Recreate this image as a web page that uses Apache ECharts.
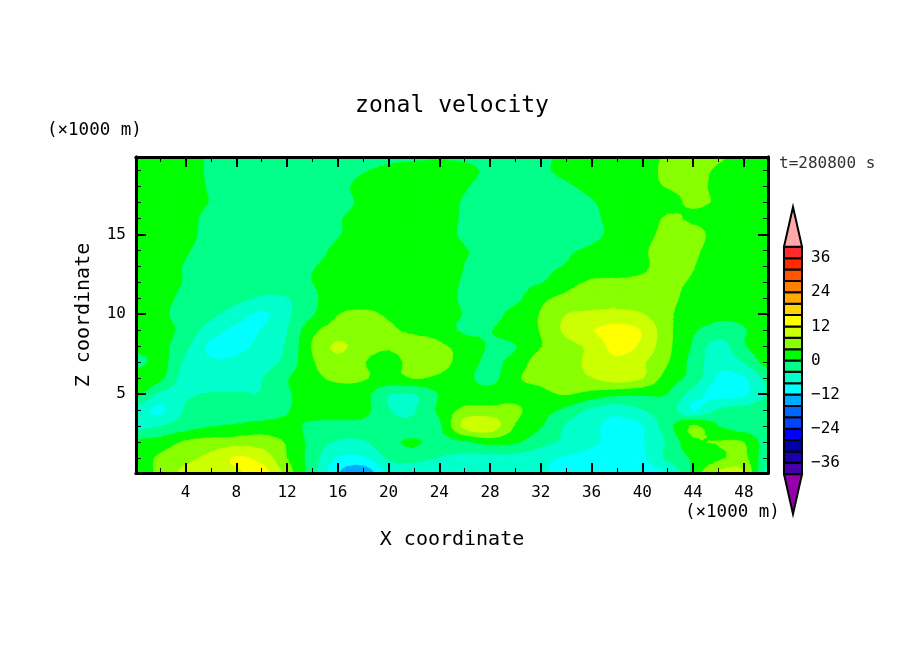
<!DOCTYPE html>
<html>
<head>
<meta charset="utf-8">
<style>
html, body { margin: 0; padding: 0; background: #fff; }
#main { width: 904px; height: 654px; }
</style>
<script src="https://cdn.jsdelivr.net/npm/echarts@6/dist/echarts.min.js"></script>
</head>
<body>
<div id="main"></div>
<script>
// km
var xPoints = [0, 2, 4, 6, 8, 10, 12, 14, 16, 18, 20, 22, 24, 26, 28, 30, 32, 34, 36, 38, 40, 42, 44, 46, 48, 50];
var zPoints = [0, 1, 2, 3, 4, 5, 6, 7, 8, 9, 10, 11, 12, 13, 14, 15, 16, 17, 18, 19, 20];

// one row per z, bottom to top, m/s
var velocity = [
    [-0.5, 5.5, 9, 10, 11, 14, 6, -2.5, -12, -16, -7, -7.5, -7.8, -8, -7.5, -7.5, -7.8, -8.5, -9.5, -9.5, -9.5, -8.5, 1, 9, 8.5, -7],
    [1.5, 4.8, 7, 9, 12.5, 10.5, 4, -2, -8.5, -8.5, -3.5, -2.5, -4.3, -5, -5.5, -5.5, -7, -8.5, -9, -9, -8.8, -3, 0.5, 3, 5, -4],
    [1, 1.5, 4.5, 5.5, 6, 6, 3.5, -1.5, -4.5, -4.5, -1, 0.5, -1.5, -0.8, 1.5, 0.5, -2.5, -5, -7.5, -8.5, -8.3, -3.5, 3, 4.2, 4, -3],
    [-6, -4, -2, -0.3, 0.5, 1.5, 1, -0.8, -1.5, -1.5, -2.5, -3, -1, 9.5, 10.5, 3.6, 0.3, -4.5, -7, -9.5, -8.3, -1.5, 4.5, 0, -2.5, -3],
    [-5.5, -9, -3.5, -3, -3, -2.8, -0.3, 1.5, 2, 1.5, -3.8, -4.3, 0.8, 5, 5, 4.7, 1.5, -1, -5, -6.5, -4.2, -2, -8.5, -3.5, -2.5, -2],
    [1.5, -5, -4.5, -3.7, -3.6, -3.9, -0.5, 1.5, 2, 1.5, -3.9, -4.3, 0.2, 1.8, 2, 2.5, 3, 4.2, 2.5, 0.8, 0.5, -0.1, -6, -9.5, -9, -3.5],
    [4.2, 1, -6, -7, -7.5, -4.2, -0.3, 2.8, 4.8, 4.4, 2.5, 4.1, 3.2, 1.2, -1.5, 3.5, 5, 6.5, 7.8, 10, 8.2, 2, -1.5, -8.8, -8.5, -2.5],
    [-2.5, 1.5, -5, -7.5, -7.5, -6, -2.8, 3.5, 6.5, 4.2, 2.5, 5.3, 5.5, 2, -0.8, 1.5, 6, 6.5, 9, 11, 8.5, 4.2, -1.5, -6.5, -3.8, 2],
    [2.5, 1.2, -3, -9, -8.8, -7, -3.5, 4.2, 8.8, 5.5, 4.4, 5.5, 4.6, 2.5, -0.5, -0.2, 3.8, 6.5, 9, 13.5, 11, 4.9, -0.5, -6, -0.3, 2],
    [2, 1.5, -1.5, -6, -9, -7.8, -4.2, 3, 5.5, 5.8, 4.5, 3.4, 2.5, -0.8, -0.2, 2, 4.2, 9, 11.8, 13.5, 11.7, 5, 0.5, -1.5, -0.3, 2],
    [2, 0.7, -1.5, -3.2, -6, -8.8, -4.7, -0.5, 3.9, 4.8, 3.5, 2.5, 1.5, -0.2, -1.5, 1.5, 4.2, 8, 8.5, 9, 8.2, 4.5, 2.5, 0.8, 1, 2],
    [2, 1, -0.8, -2, -3, -4.5, -4.3, -0.6, 1.5, 2, 2, 2.2, 1.5, -0.6, -1.5, -1, 3, 5, 6.5, 6.5, 5.5, 4.7, 3, 2, 1.5, 2],
    [2, 1, -0.2, -1.7, -2.5, -2.5, -1.5, 0, 1, 1.5, 2, 2.2, 1.5, -0.4, -1.6, -0.6, -0.2, 2.5, 4.5, 4.4, 4.4, 4.4, 3.7, 2, 1.8, 2],
    [2, 1.2, -0.2, -1.5, -2.5, -2.5, -1.5, -0.2, 1, 1.5, 2, 2.3, 2, -0.1, -1.5, -1.5, -0.8, 0.2, 1.8, 3, 3.7, 4.6, 4.1, 2.5, 2, 2],
    [2, 1.5, 0.3, -1.3, -2.5, -3, -2.5, -1.5, 0.8, 1.5, 2, 2.3, 2, 0.2, -1, -2.5, -1.5, -0.4, 0.5, 2, 3.7, 4.6, 4.4, 2.8, 2, 2],
    [2, 1.8, 0.8, -1, -2.5, -3, -3, -2.5, -0.2, 0.8, 1.8, 2.3, 1.2, -0.6, -2.5, -2.5, -2.5, -2, -0.8, 1, 3.2, 4.5, 4.8, 3, 2, 2],
    [2, 2, 1.2, -1.2, -2.5, -3, -3, -2.5, -0.3, 1, 2, 2.5, 1.5, -0.5, -2, -2.5, -2.5, -2, -0.6, 1, 2.5, 4.3, 3.6, 3.2, 2.5, 2],
    [2, 2, 1.5, -0.2, -2, -2.5, -2.5, -2, -1, 0.5, 2, 2.5, 1.5, -0.4, -2, -2.5, -2, -1.5, -0.3, 1.5, 2.8, 3.3, 4.3, 3.7, 2.5, 2],
    [2, 2, 1.8, -0.5, -2, -2.5, -2.5, -2, -1, 1, 2, 2.5, 1.5, 0.3, -1.5, -2, -1.5, -0.5, 1, 2.5, 3.3, 4.1, 4.5, 3.5, 2.5, 2],
    [2, 2, 2, -0.8, -1.5, -2, -2, -2, -1.5, -0.3, 1, 1.5, 1.5, 1, -0.8, -1.5, -0.5, 0.8, 2.5, 3.5, 3.2, 4.5, 5, 3.5, 2.5, 2],
    [2, 2, 2.5, -0.8, -1.5, -2, -2, -2, -2, -2, -1.5, -1, -0.5, -1, -1.5, -1.5, -1, 1, 2, 3, 3, 4.4, 5.5, 4.6, 3, 2]
];

var contourLevels = [-40, -36, -32, -28, -24, -20, -16, -12, -8, -4, 0, 4, 8, 12, 16, 20, 24, 28, 32, 36, 40];
var bandColors = ['#4400aa', '#1a00aa', '#0000aa', '#0000ff', '#0044ff', '#0066ff', '#00aaff', '#00ffff', '#00ffcc', '#00ff88',
    '#00ff00', '#88ff00', '#ccff00', '#ffff00', '#ffd400', '#ffaa00', '#ff7f00', '#ff5500', '#ff2a00', '#ff2a2a'];
var xMajorTicks = [4, 8, 12, 16, 20, 24, 28, 32, 36, 40, 44, 48];
var xMinorTicks = [2, 6, 10, 14, 18, 22, 26, 30, 34, 38, 42, 46];
var zMajorTicks = [5, 10, 15];
var zMinorTicks = [1, 2, 3, 4, 6, 7, 8, 9, 11, 12, 13, 14, 16, 17, 18, 19];
var barTicks = [-36, -24, -12, 0, 12, 24, 36];

var monoFont = '"DejaVu Sans Mono", monospace';
var xExtent = [0.1, 49.9];
var zExtent = [0.05, 19.85];
var barExtent = [-54, 54];
var subSteps = 3;

var myChart = echarts.init(document.getElementById('main'), null, { renderer: 'canvas' });

function cubic(p0, p1, p2, p3, t) {
    return p1 + 0.5 * t * (p2 - p0 + t * (2 * p0 - 5 * p1 + 4 * p2 - p3 + t * (3 * (p1 - p2) + p3 - p0)));
}

// smooth lookup between the read values, i and j are float grid indexes
function sampleField(i, j) {
    var i0 = Math.min(Math.floor(i), xPoints.length - 2), j0 = Math.min(Math.floor(j), zPoints.length - 2);
    var col = [];
    for (var b = -1; b <= 2; b++) {
        var row = velocity[Math.max(0, Math.min(zPoints.length - 1, j0 + b))];
        var get = function (k) { return row[Math.max(0, Math.min(xPoints.length - 1, k))]; };
        col.push(cubic(get(i0 - 1), get(i0), get(i0 + 1), get(i0 + 2), i - i0));
    }
    return cubic(col[0], col[1], col[2], col[3], j - j0);
}

// cut a polygon [x, z, v] down to the part with v on one side of level
function clipSide(poly, level, keepAbove) {
    var out = [];
    for (var i = 0; i < poly.length; i++) {
        var a = poly[i], b = poly[(i + 1) % poly.length];
        var aIn = keepAbove ? a[2] >= level : a[2] <= level;
        var bIn = keepAbove ? b[2] >= level : b[2] <= level;
        if (aIn) out.push(a);
        if (aIn !== bIn) {
            var t = (level - a[2]) / (b[2] - a[2]);
            out.push([a[0] + t * (b[0] - a[0]), a[1] + t * (b[1] - a[1]), level]);
        }
    }
    return out;
}

function renderCell(params, api) {
    var i = api.value(0), j = api.value(1);
    var dx = xPoints[i + 1] - xPoints[i], dz = zPoints[j + 1] - zPoints[j];
    var children = [];
    function node(a, b) {
        return [xPoints[i] + dx * a / subSteps, zPoints[j] + dz * b / subSteps, sampleField(i + a / subSteps, j + b / subSteps)];
    }
    for (var a = 0; a < subSteps; a++) {
        for (var b = 0; b < subSteps; b++) {
            var n00 = node(a, b), n10 = node(a + 1, b), n11 = node(a + 1, b + 1), n01 = node(a, b + 1);
            [[n00, n10, n11], [n00, n11, n01]].forEach(function (tri) {
                bandColors.forEach(function (color, k) {
                    var poly = clipSide(clipSide(tri, contourLevels[k], true), contourLevels[k + 1], false);
                    if (poly.length < 3) return;
                    children.push({
                        type: 'polygon',
                        shape: { points: poly.map(function (p) { return api.coord([p[0], p[1]]); }) },
                        style: { fill: color, stroke: color, lineWidth: 0.8 }
                    });
                });
            });
        }
    }
    return { type: 'group', children: children };
}

function renderBarCell(params, api) {
    var lo = api.value(0), hi = api.value(1);
    var p0 = api.coord([0, lo]), p1 = api.coord([1, hi]);
    return {
        type: 'rect',
        shape: { x: p0[0], y: p1[1], width: p1[0] - p0[0], height: p0[1] - p1[1] },
        style: { fill: bandColors[params.dataIndex], stroke: '#000', lineWidth: 2 }
    };
}

function renderArrow(params, api) {
    var base = api.value(0), tip = api.value(1);
    return {
        type: 'polygon',
        shape: { points: [api.coord([0, base]), api.coord([1, base]), api.coord([0.5, tip])] },
        style: { fill: api.value(2) > 0 ? '#ffaaaa' : '#9400aa', stroke: '#000', lineWidth: 2 }
    };
}

function plotXAxis(position, ticks, length, width, showLabel, name) {
    return {
        type: 'value', gridIndex: 0, position: position, min: xExtent[0], max: xExtent[1], z: 10,
        splitLine: { show: false },
        axisLine: { show: true, onZero: false, lineStyle: { color: '#000', width: 3 } },
        axisTick: { show: true, inside: true, customValues: ticks, length: length, lineStyle: { color: '#000', width: width } },
        axisLabel: { show: showLabel, customValues: ticks, margin: 12, color: '#000', fontFamily: monoFont, fontSize: 16 },
        name: name, nameLocation: 'middle', nameGap: 57,
        nameTextStyle: { color: '#000', fontFamily: monoFont, fontSize: 20 }
    };
}

function plotZAxis(position, ticks, length, width, showLabel, name) {
    return {
        type: 'value', gridIndex: 0, position: position, min: zExtent[0], max: zExtent[1], z: 10,
        splitLine: { show: false },
        axisLine: { show: true, onZero: false, lineStyle: { color: '#000', width: 3 } },
        axisTick: { show: true, inside: true, customValues: ticks, length: length, lineStyle: { color: '#000', width: width } },
        axisLabel: { show: showLabel, customValues: ticks, margin: 10, color: '#000', fontFamily: monoFont, fontSize: 16 },
        name: name, nameLocation: 'middle', nameGap: 42, nameRotate: 90,
        nameTextStyle: { color: '#000', fontFamily: monoFont, fontSize: 20 }
    };
}

var cells = [];
for (var j = 0; j < zPoints.length - 1; j++) {
    for (var i = 0; i < xPoints.length - 1; i++) cells.push([i, j]);
}
var barCells = bandColors.map(function (c, k) { return [contourLevels[k], contourLevels[k + 1]]; });

var option = {
    backgroundColor: '#fff',
    animation: false,
    title: [
        { text: 'zonal velocity', left: 447, top: 90, textAlign: 'center', textStyle: { color: '#000', fontFamily: monoFont, fontSize: 23, fontWeight: 'normal' } },
        { text: '(×1000 m)', left: 42, top: 116, textStyle: { color: '#000', fontFamily: monoFont, fontSize: 17.5, fontWeight: 'normal' } },
        { text: '(×1000 m)', left: 680, top: 498, textStyle: { color: '#000', fontFamily: monoFont, fontSize: 17.5, fontWeight: 'normal' } },
        { text: 't=280800 s', left: 774, top: 151, textStyle: { color: '#333', fontFamily: monoFont, fontSize: 16, fontWeight: 'normal' } }
    ],
    grid: [
        { left: 136, top: 157, width: 632, height: 316 },
        { left: 784, top: 207, width: 18, height: 307 }
    ],
    xAxis: [
        plotXAxis('bottom', xMajorTicks, 10, 2, true, 'X coordinate'),
        plotXAxis('bottom', xMinorTicks, 5, 1, false, ''),
        plotXAxis('top', xMajorTicks, 10, 2, false, ''),
        plotXAxis('top', xMinorTicks, 5, 1, false, ''),
        { type: 'value', gridIndex: 1, min: 0, max: 1, show: false }
    ],
    yAxis: [
        plotZAxis('left', zMajorTicks, 10, 2, true, 'Z coordinate'),
        plotZAxis('left', zMinorTicks, 5, 1, false, ''),
        plotZAxis('right', zMajorTicks, 10, 2, false, ''),
        plotZAxis('right', zMinorTicks, 5, 1, false, ''),
        {
            type: 'value', gridIndex: 1, position: 'right', min: barExtent[0], max: barExtent[1],
            splitLine: { show: false }, axisLine: { show: false }, axisTick: { show: false },
            axisLabel: {
                customValues: barTicks, margin: 9, color: '#000', fontFamily: monoFont, fontSize: 16,
                formatter: function (v) { return v < 0 ? '\u2212' + (-v) : '' + v; }
            }
        }
    ],
    series: [
        {
            type: 'custom', xAxisIndex: 0, yAxisIndex: 0, clip: true, silent: true, progressive: 0,
            encode: { x: 0, y: 1 }, renderItem: renderCell, data: cells
        },
        {
            type: 'custom', xAxisIndex: 4, yAxisIndex: 4, silent: true,
            encode: { y: [0, 1] }, renderItem: renderBarCell, data: barCells
        },
        {
            type: 'custom', xAxisIndex: 4, yAxisIndex: 4, silent: true,
            encode: { y: [0, 1] }, renderItem: renderArrow, data: [[40, 54, 1], [-40, -54, -1]]
        }
    ]
};
myChart.setOption(option);
</script>
</body>
</html>
